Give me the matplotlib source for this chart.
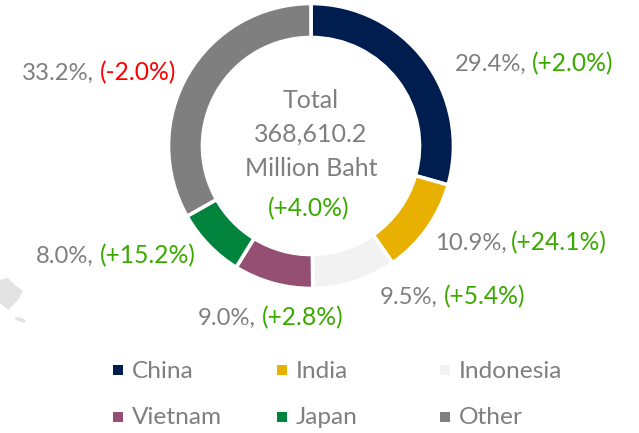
import matplotlib as mpl
mpl.use("Agg")
import matplotlib.pyplot as plt

plt.rcParams['font.family'] = ['Lato', 'DejaVu Sans']

countries = ["China", "India", "Indonesia", "Vietnam", "Japan", "Other"]
shares = [29.4, 10.9, 9.5, 9.0, 8.0, 33.2]
changes = ["(+2.0%)", "(+24.1%)", "(+5.4%)", "(+2.8%)", "(+15.2%)", "(-2.0%)"]
colors = ["#001d4f", "#e8b000", "#f2f2f2", "#954f72", "#00843d", "#7f7f7f"]
total_lines = ["Total", "368,610.2", "Million Baht"]
total_change = "(+4.0%)"

GREY = "#7f7f7f"
GREEN = "#3aaa00"
RED = "#ff0000"
H = 433

fig = plt.figure(figsize=(6.39, 4.33), dpi=100)
ax = fig.add_axes([0, 0, 1, 1])

# donut
ax.pie(shares, colors=colors, center=(311, H - 146), radius=142.5,
       startangle=90, counterclock=False,
       wedgeprops=dict(width=34, edgecolor="white", linewidth=2.6))

ax.set_xlim(0, 639)
ax.set_ylim(0, H)
ax.set_aspect("equal")
ax.axis("off")

# pixel positions of the labels: share x, change x, y
label_pos = [(455, 532, 64), (435, 511, 243), (380, 444, 297),
             (198, 262, 318), (36, 100, 256), (22, 100, 73)]

for share, change, (x1, x2, y) in zip(shares, changes, label_pos):
    ax.text(x1, H - y, f"{share:.1f}%,", color=GREY, fontsize=17.2, va="center")
    ax.text(x2, H - y, change, color=RED if change.startswith("(-") else GREEN,
            fontsize=17.7, va="center")

# centre text
for line, y in zip(total_lines, [100, 134, 168]):
    ax.text(311, H - y, line, color=GREY, fontsize=18, ha="center", va="center")
ax.text(309, H - 209, total_change, color=GREEN, fontsize=17.7, ha="center", va="center")

# legend
legend_pos = [(118, 370), (282, 370), (445, 370), (118, 417), (282, 417), (445, 417)]
for name, col, (x, y) in zip(countries, colors, legend_pos):
    ax.scatter([x], [H - y], marker="s", s=50, color=col, linewidths=0)
    ax.text(x + 14, H - y - 1, name, color=GREY, fontsize=17.6, va="center")

# faint map fragment in the background, lower left
ax.fill([0, 8, 15, 23, 18, 8, 0], [H - 280, H - 278, H - 285, H - 291, H - 300, H - 310, H - 303],
        color="#e3e3e3", linewidth=0)
ax.fill([14, 22, 26, 24, 16], [H - 317, H - 318, H - 321, H - 323, H - 320], color="#e3e3e3", linewidth=0)

fig.savefig("out.png", dpi=100)
